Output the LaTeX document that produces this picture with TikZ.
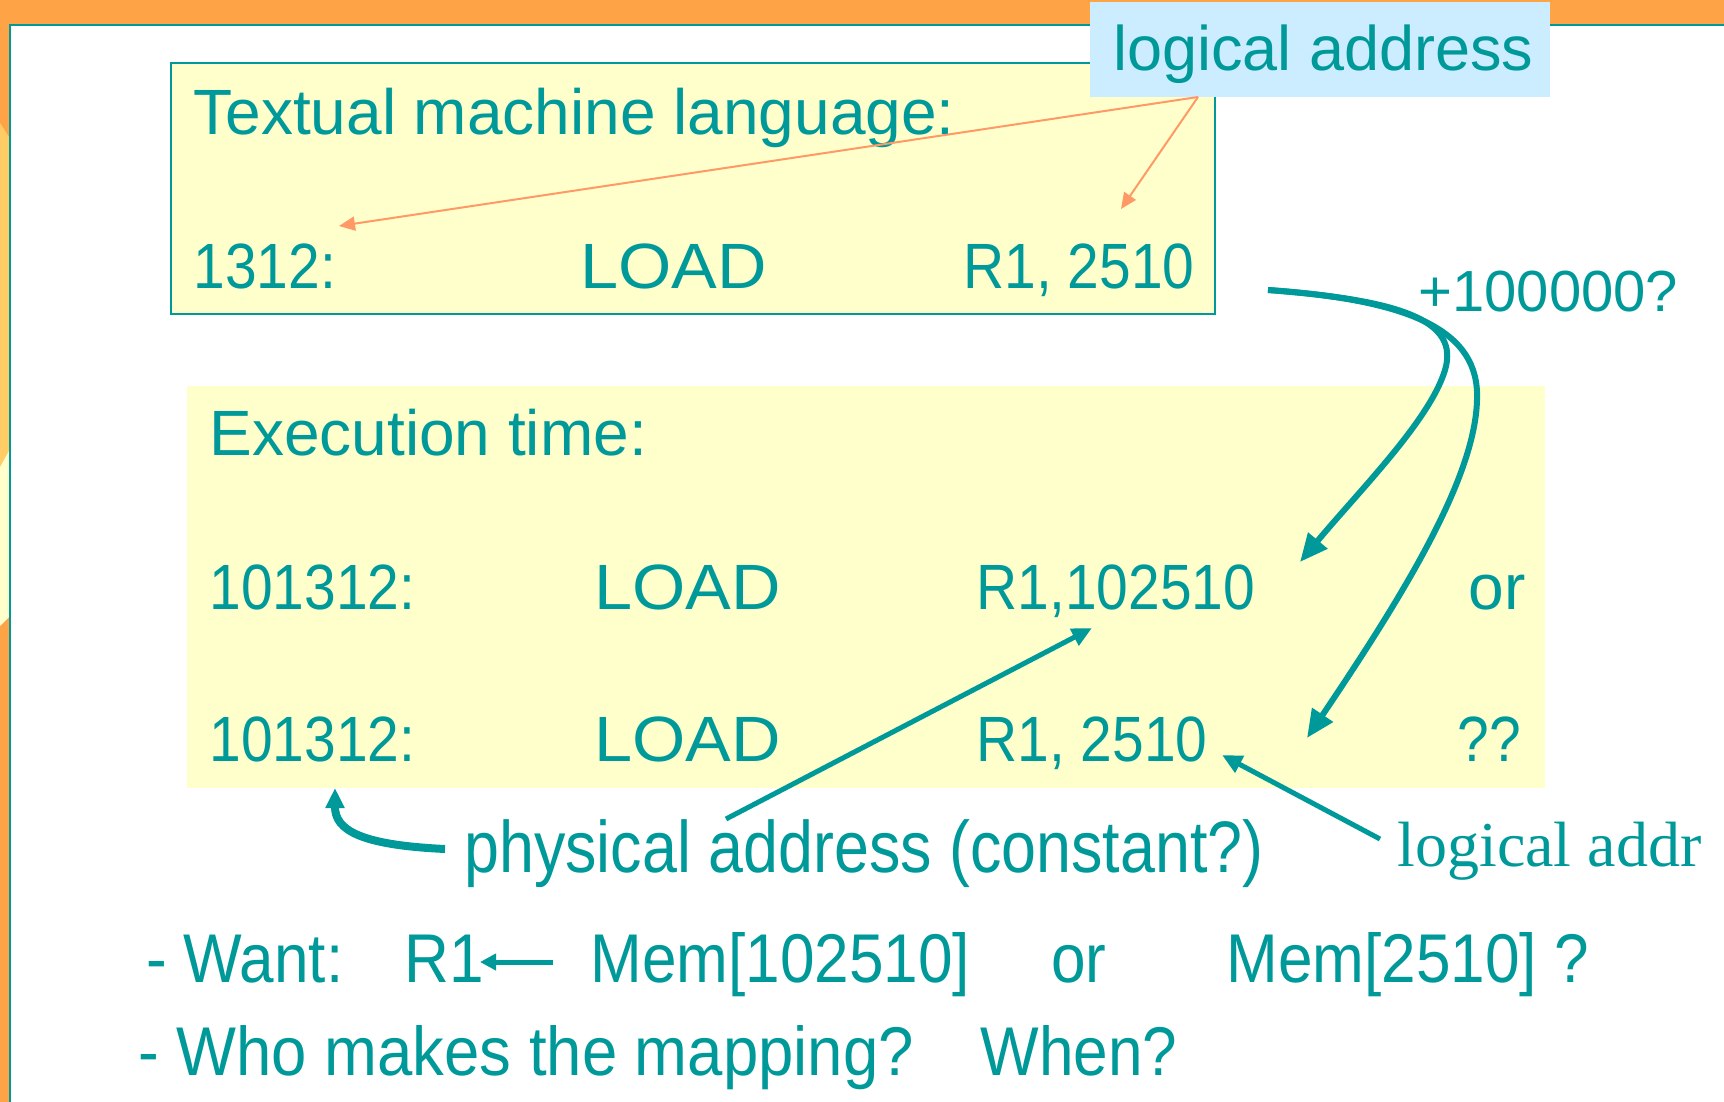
\documentclass[tikz,border=0pt]{standalone}
\usepackage{fontspec}
\setmainfont{Liberation Sans}
\newfontfamily\condfont[FakeStretch=0.86]{Liberation Sans}
\newfontfamily\narrowfont[FakeStretch=0.9]{Liberation Sans}
\newfontfamily\whofont[FakeStretch=0.92]{Liberation Sans}
\newfontfamily\digitfont[FakeStretch=0.89]{Liberation Sans}
\newfontfamily\widefont[FakeStretch=1.07]{Liberation Sans}
\newfontfamily\serfont{Liberation Serif}
\usetikzlibrary{arrows.meta}
\definecolor{bgorange}{RGB}{255,163,71}
\definecolor{lightorange}{RGB}{255,204,102}
\definecolor{paleyellow}{RGB}{255,255,204}
\definecolor{tealc}{RGB}{0,153,153}
\definecolor{lightblue}{RGB}{204,236,255}
\definecolor{arroworange}{RGB}{255,153,102}

\begin{document}
\begin{tikzpicture}[x=0.5pt,y=-0.5pt,
  txt/.style={anchor=base west, inner sep=0, text=tealc, font=\fontsize{32}{38}\selectfont},
  numtxt/.style={txt, font=\digitfont\fontsize{32}{38}\selectfont},
  optxt/.style={txt, font=\widefont\fontsize{32}{38}\selectfont},
  bigtxt/.style={txt, font=\condfont\fontsize{36.5}{44}\selectfont},
  bottxt/.style={txt, font=\narrowfont\fontsize{34.5}{42}\selectfont},
  thinarrow/.style={arroworange, line width=1pt, -{Triangle[length=8pt,width=7pt]}},
  bendarrow/.style={tealc, line width=3pt, -{Triangle[length=14pt,width=12pt]}},
  tealarrow/.style={tealc, line width=2.5pt, -{Triangle[length=10pt,width=9pt]}}]
  \useasboundingbox (0,0) rectangle (1724,1102);
  %% slide background
  \fill[bgorange] (0,0) rectangle (1724,1102);
  \fill[lightorange] (0,123) -- (9,137) -- (9,451) -- (0,467) -- cycle;
  \fill[paleyellow] (0,467) -- (9,451) -- (9,617) -- (0,626) -- cycle;
  \fill[white] (10,25) rectangle (1724,1102);
  \draw[tealc, line width=1.2pt] (10,1102) -- (10,25) -- (1724,25);
  %% boxes
  \draw[tealc, line width=1pt, fill=paleyellow] (171,63) rectangle (1215,314);
  \fill[paleyellow] (187,386) rectangle (1545,788);
  \fill[lightblue] (1090,2) rectangle (1550,97);
  %% textual machine language
  \node[txt] (title1) at (193,134) {Textual machine language:};
  \node[numtxt] (adr1) at (193,288) {1312:};
  \node[optxt] (op1) at (580,288) {LOAD};
  \node[numtxt] (arg1) at (963,288) {R1, 2510};
  \node[txt, font=\fontsize{31.5}{38}\selectfont] (laddr) at (1113,71) {logical address};
  \node[txt, font=\fontsize{29}{35}\selectfont] (plus) at (1418,311) {+100000?};
  %% execution time
  \node[txt] (title2) at (209,455) {Execution time:};
  \node[numtxt] (adr2) at (209,609) {101312:};
  \node[optxt] (op2) at (594,609) {LOAD};
  \node[numtxt] (arg2) at (976,609) {R1,102510};
  \node[txt] (or1) at (1468,609) {or};
  \node[numtxt] (adr3) at (209,761) {101312:};
  \node[optxt] (op3) at (594,761) {LOAD};
  \node[numtxt] (arg3) at (976,761) {R1, 2510};
  \node[numtxt] (qq) at (1457,761) {??};
  \node[bigtxt] (phys) at (464,872) {physical address (constant?)};
  \node[txt, font=\serfont\fontsize{32}{38}\selectfont] (logaddr) at (1397,866) {logical addr};
  %% bottom lines
  \node[bottxt] (dash1) at (146,982) {-};
  \node[bottxt] (want) at (183,982) {Want:};
  \node[bottxt] (reg) at (404,982) {R1};
  \node[bottxt] (mem1) at (590,982) {Mem[102510]};
  \node[bottxt] (or2) at (1051,982) {or};
  \node[bottxt] (mem2) at (1226,982) {Mem[2510] ?};
  \node[bottxt] (dash2) at (138,1075) {-};
  \node[bottxt, font=\whofont\fontsize{34.5}{42}\selectfont] (who) at (176,1075) {Who makes the mapping?};
  \node[bottxt] (when) at (980,1075) {When?};
  %% arrow end points
  \coordinate (lsrc) at (1198,97);
  \coordinate (ltgt1) at (339,226);
  \coordinate (ltgt2) at (1121,209);
  \coordinate (bsrc) at (1268,290);
  \coordinate (btgt1) at (1300,562);
  \coordinate (btgt2) at (1307,738);
  \coordinate (psrc) at (726,819);
  \coordinate (ptgt) at (1092,628);
  \coordinate (csrc) at (445,849);
  \coordinate (ctgt) at (335,788);
  \coordinate (gsrc) at (1380,839);
  \coordinate (gtgt) at (1222,755);
  \coordinate (rsrc) at (553,962);
  \coordinate (rtgt) at (480,962);
  %% arrows
  \draw[thinarrow] (lsrc) -- (ltgt1);
  \draw[thinarrow] (lsrc) -- (ltgt2);
  \draw[bendarrow] (bsrc) .. controls (1400,300) and (1460,320) .. (1445,370)
    .. controls (1430,420) and (1360,490) .. (btgt1);
  \draw[bendarrow] (bsrc) .. controls (1410,300) and (1480,330) .. (1477,400)
    .. controls (1475,480) and (1400,600) .. (btgt2);
  \draw[tealarrow] (psrc) -- (ptgt);
  \draw[tealarrow, line width=4pt] (csrc) .. controls (360,845) and (335,830) .. (ctgt);
  \draw[tealarrow] (gsrc) -- (gtgt);
  \draw[tealarrow, -{Triangle[length=8pt,width=8pt]}] (rsrc) -- (rtgt);
\end{tikzpicture}
\end{document}
